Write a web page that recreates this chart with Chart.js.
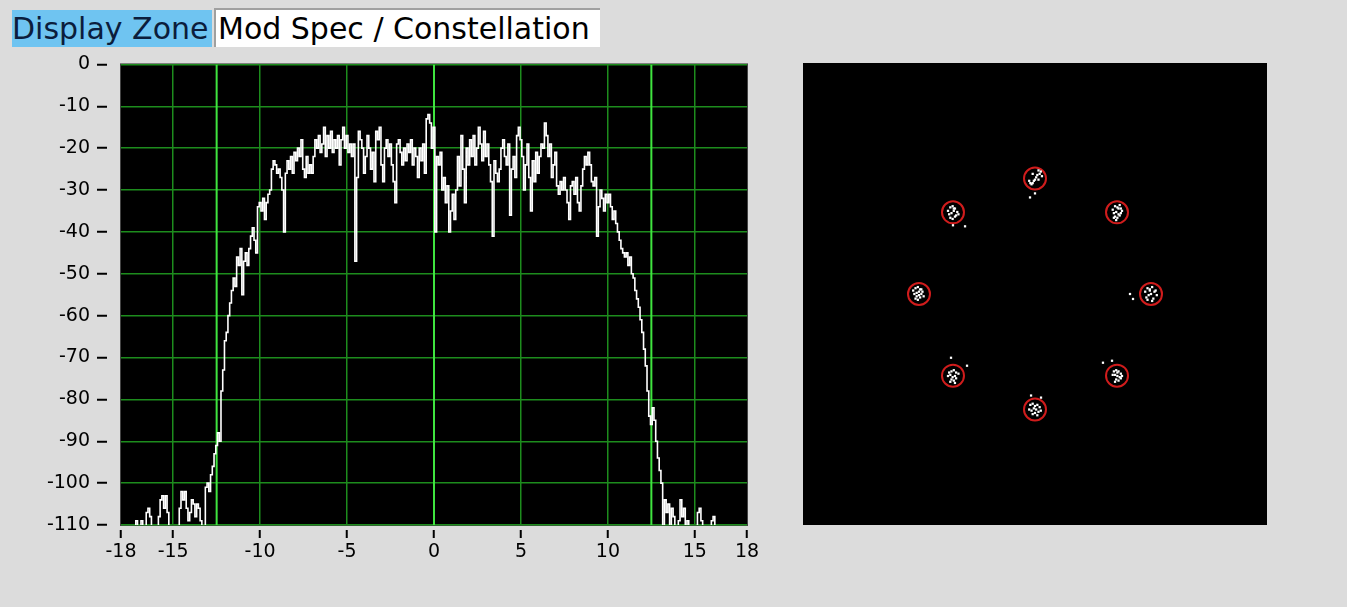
<!DOCTYPE html>
<html>
<head>
<meta charset="utf-8">
<title>Mod Spec / Constellation</title>
<script src="https://cdn.jsdelivr.net/npm/chart.js@4.4.1/dist/chart.umd.min.js"></script>
<style>
    body {
        margin: 0;
        width: 1347px;
        height: 607px;
        position: relative;
        overflow: hidden;
        background: #dcdcdc;
        font-family: 'DejaVu Sans', sans-serif;
    }
    #zone {
        position: absolute;
        left: 12px;
        top: 10px;
        width: 200px;
        height: 37px;
        background: #6fc4f1;
        color: #0b1d3c;
        font-size: 30px;
        line-height: 37px;
        white-space: nowrap;
    }
    #mode {
        position: absolute;
        left: 214px;
        top: 8px;
        width: 386px;
        height: 39px;
        box-sizing: border-box;
        background: #ffffff;
        border-top: 2px solid #a0a0a0;
        border-left: 2px solid #a0a0a0;
        color: #000000;
        font-size: 30px;
        line-height: 37px;
        padding-left: 2px;
        white-space: nowrap;
    }
    #spectrum {
        position: absolute;
        left: 0;
        top: 46px;
    }
    #constellation {
        position: absolute;
        left: 803px;
        top: 63px;
        background: #000000;
    }
</style>
</head>
<body>
<div id="zone">Display Zone</div>
<div id="mode">Mod Spec / Constellation</div>
<canvas id="spectrum" width="775" height="534"></canvas>
<canvas id="constellation" width="464" height="462"></canvas>

<script>
// Spectrum trace: one value (dB) every 0.1 from -18 to 18, values below -110 sit under the axis
const freqStart = -18;
const freqStep = 0.1;
const spectrumDb = [
    -115, -115, -115, -115, -115, -115, -115, -115, -115, -109,
    -115, -115, -109, -115, -115, -107, -106, -108, -115, -115,
    -115, -112, -108, -104, -103, -106, -103, -107, -115, -115,
    -115, -115, -115, -115, -106, -102, -104, -102, -106, -109,
    -107, -104, -105, -108, -105, -106, -109, -115, -112, -101,
    -100, -102, -98, -96, -93, -91, -88, -90, -78, -73,
    -66, -64, -60, -57, -54, -51, -53, -46, -48, -44,
    -55, -47, -45, -48, -44, -41, -39, -42, -45, -34,
    -33, -35, -32, -37, -33, -31, -30, -25, -23, -24,
    -26, -25, -27, -30, -40, -26, -23, -25, -22, -26,
    -21, -23, -20, -22, -18, -25, -27, -22, -26, -24,
    -26, -22, -18, -20, -17, -21, -19, -15, -22, -17,
    -20, -16, -21, -18, -20, -17, -24, -18, -15, -20,
    -17, -21, -19, -22, -19, -47, -27, -16, -18, -20,
    -26, -22, -17, -20, -25, -21, -28, -16, -18, -15,
    -24, -28, -20, -18, -22, -19, -24, -28, -33, -19,
    -18, -21, -24, -20, -23, -19, -21, -18, -24, -20,
    -22, -27, -20, -23, -19, -26, -13, -12, -14, -20,
    -15, -40, -22, -24, -21, -30, -27, -33, -29, -40,
    -35, -31, -37, -30, -22, -29, -17, -25, -33, -20,
    -24, -18, -22, -17, -24, -20, -15, -19, -23, -16,
    -22, -19, -24, -28, -41, -23, -26, -28, -25, -20,
    -18, -22, -24, -19, -36, -25, -22, -27, -17, -15,
    -18, -22, -30, -24, -19, -27, -35, -23, -28, -21,
    -26, -22, -19, -20, -14, -17, -22, -19, -27, -24,
    -21, -29, -31, -28, -30, -27, -30, -33, -37, -29,
    -28, -31, -27, -33, -35, -29, -25, -22, -24, -21,
    -24, -28, -29, -27, -41, -34, -30, -32, -35, -31,
    -33, -31, -34, -37, -35, -38, -40, -42, -44, -45,
    -46, -45, -48, -46, -50, -51, -54, -56, -58, -61,
    -64, -68, -72, -78, -84, -86, -82, -85, -90, -94,
    -97, -100, -112, -104, -107, -105, -115, -106, -108, -112,
    -115, -109, -104, -108, -106, -115, -109, -115, -115, -115,
    -115, -115, -107, -106, -109, -115, -115, -115, -115, -115,
    -109, -108, -115, -115, -115, -115, -115, -115, -115, -115,
    -115, -115, -115, -115, -115, -115, -115, -115, -115, -115,
    -115
];

// Axis ticks and the three markers
const xTickValues = [-18, -15, -10, -5, 0, 5, 10, 15, 18];
const yMin = -110;
const yMax = 0;
const markerFreqs = [-12.5, 0, 12.5];

// Constellation: ideal 8-PSK points (rings) and measured symbols (white dots)
const idealI = [1, 0.707, 0, -0.707, -1, -0.707, 0, 0.707];
const idealQ = [0, 0.707, 1, 0.707, 0, -0.707, -1, -0.707];

const measuredI = [
    // right
    0.95, 0.97, 0.99, 1.01, 1.03, 1.05, 0.96, 0.98, 1.00, 1.02, 1.04, 0.97, 1.01, 0.99, 0.819, 0.845,
    // top right
    0.67, 0.69, 0.71, 0.73, 0.75, 0.68, 0.70, 0.72, 0.74, 0.69, 0.71, 0.73, 0.70, 0.72, 0.68, 0.74,
    // top
    0.03, 0.05, 0.04, 0.02, 0.01, 0.0, -0.01, -0.02, -0.03, -0.04, -0.05, 0.06, 0.03, -0.02, 0.0, -0.043,
    // top left
    -0.75, -0.73, -0.71, -0.69, -0.67, -0.74, -0.72, -0.70, -0.68, -0.73, -0.71, -0.69, -0.66, -0.70, -0.707, -0.603,
    // left
    -1.05, -1.03, -1.01, -0.99, -0.97, -1.04, -1.02, -1.00, -0.98, -0.96, -1.03, -1.01, -0.99, -1.02, -0.98, -1.00,
    // bottom left
    -0.74, -0.72, -0.70, -0.68, -0.66, -0.75, -0.73, -0.71, -0.69, -0.72, -0.70, -0.68, -0.73, -0.69, -0.724, -0.586,
    // bottom
    -0.04, -0.02, 0.0, 0.02, 0.04, -0.05, -0.03, -0.01, 0.01, 0.03, 0.05, -0.02, 0.02, 0.0, -0.034, 0.052,
    // bottom right
    0.68, 0.70, 0.72, 0.74, 0.67, 0.69, 0.71, 0.73, 0.75, 0.70, 0.72, 0.74, 0.71, 0.69, 0.586, 0.664
];
const measuredQ = [
    0.02, 0.05, 0.03, 0.06, 0.02, -0.01, -0.03, -0.01, 0.0, -0.04, 0.03, -0.05, -0.06, 0.04, 0.0, -0.043,
    0.73, 0.76, 0.75, 0.77, 0.72, 0.70, 0.71, 0.69, 0.70, 0.67, 0.66, 0.68, 0.64, 0.74, 0.66, 0.74,
    1.07, 1.06, 1.04, 1.03, 1.01, 0.99, 0.98, 0.96, 0.95, 0.96, 0.98, 1.02, 0.99, 1.04, 0.871, 0.836,
    0.72, 0.75, 0.76, 0.74, 0.71, 0.69, 0.70, 0.72, 0.68, 0.66, 0.65, 0.67, 0.69, 0.74, 0.595, 0.586,
    0.03, 0.05, 0.06, 0.04, 0.02, 0.0, 0.01, -0.01, 0.0, -0.02, -0.04, -0.05, -0.03, -0.02, 0.04, 0.02,
    -0.68, -0.67, -0.66, -0.68, -0.69, -0.71, -0.70, -0.72, -0.71, -0.74, -0.75, -0.73, -0.76, -0.77, -0.552, -0.621,
    -0.96, -0.95, -0.97, -0.96, -0.98, -1.0, -1.01, -0.99, -1.0, -1.02, -1.01, -1.04, -1.05, -1.03, -0.879, -0.897,
    -0.67, -0.66, -0.67, -0.69, -0.70, -0.70, -0.71, -0.72, -0.71, -0.74, -0.75, -0.73, -0.68, -0.76, -0.595, -0.578
];

const gridGreen = '#1d8c1d';
const markerGreen = '#3fe43f';
const labelFont = { family: 'DejaVu Sans', size: 19 };

// Black plot area with a thin frame
const plotBackground = {
    id: 'plotBackground',
    beforeDraw(chart) {
        const { ctx, chartArea: a } = chart;
        ctx.save();
        ctx.fillStyle = '#000000';
        ctx.fillRect(a.left, a.top, a.right - a.left, a.bottom - a.top);
        ctx.strokeStyle = '#444444';
        ctx.lineWidth = 1;
        ctx.strokeRect(a.left - 0.5, a.top - 0.5, a.right - a.left + 1, a.bottom - a.top + 1);
        ctx.restore();
    }
};

const spectrumPoints = spectrumDb.map((v, i) => ({ x: freqStart + i * freqStep, y: v }));

const markerDatasets = markerFreqs.map(f => ({
    label: 'marker ' + f,
    data: [{ x: f, y: yMax }, { x: f, y: yMin }],
    borderColor: markerGreen,
    borderWidth: 2,
    pointRadius: 0,
    order: 1
}));

new Chart(document.getElementById('spectrum'), {
    type: 'line',
    data: {
        datasets: [
            {
                label: 'Spectrum',
                data: spectrumPoints,
                borderColor: '#ffffff',
                borderWidth: 1.6,
                pointRadius: 0,
                stepped: 'middle',
                order: 0
            },
            ...markerDatasets
        ]
    },
    options: {
        responsive: false,
        animation: false,
        layout: {
            padding: { top: 13, right: 28, left: 0, bottom: 0 }
        },
        plugins: {
            legend: { display: false },
            tooltip: { enabled: false }
        },
        scales: {
            x: {
                type: 'linear',
                min: -18,
                max: 18,
                afterBuildTicks: scale => {
                    scale.ticks = xTickValues.map(v => ({ value: v }));
                },
                afterFit: scale => {
                    scale.height = 55;
                },
                grid: {
                    color: ctx => (ctx.tick && Math.abs(ctx.tick.value) === 18) ? 'rgba(0,0,0,0)' : gridGreen,
                    lineWidth: 1.5,
                    drawTicks: true,
                    tickLength: 13,
                    tickColor: '#000000',
                    tickWidth: 2,
                    tickBorderDash: [0, 5, 8, 40]
                },
                border: { display: false },
                ticks: {
                    color: '#000000',
                    font: labelFont,
                    padding: 3,
                    maxRotation: 0,
                    autoSkip: false
                }
            },
            y: {
                type: 'linear',
                min: yMin,
                max: yMax,
                afterFit: scale => {
                    scale.width = 121;
                },
                grid: {
                    color: gridGreen,
                    lineWidth: 1.5,
                    drawTicks: true,
                    tickLength: 24,
                    tickColor: '#000000',
                    tickWidth: 2,
                    tickBorderDash: [10, 40]
                },
                border: { display: false },
                ticks: {
                    stepSize: 10,
                    color: '#000000',
                    font: labelFont,
                    padding: 7
                }
            }
        }
    },
    plugins: [plotBackground]
});

const idealPoints = idealI.map((v, i) => ({ x: v, y: idealQ[i] }));
const measuredPoints = measuredI.map((v, i) => ({ x: v, y: measuredQ[i] }));

new Chart(document.getElementById('constellation'), {
    type: 'scatter',
    data: {
        datasets: [
            {
                label: 'Measured',
                data: measuredPoints,
                pointStyle: 'rect',
                pointRadius: 1.6,
                backgroundColor: '#ffffff',
                borderWidth: 0,
                order: 0
            },
            {
                label: 'Ideal',
                data: idealPoints,
                pointStyle: 'circle',
                pointRadius: 11,
                backgroundColor: 'rgba(0,0,0,0)',
                borderColor: '#d01c1c',
                borderWidth: 2,
                order: 1
            }
        ]
    },
    options: {
        responsive: false,
        animation: false,
        layout: { padding: 0, autoPadding: false },
        plugins: {
            legend: { display: false },
            tooltip: { enabled: false }
        },
        scales: {
            x: { type: 'linear', min: -2, max: 2, display: false },
            y: { type: 'linear', min: -2, max: 2, display: false }
        }
    }
});
</script>
</body>
</html>
